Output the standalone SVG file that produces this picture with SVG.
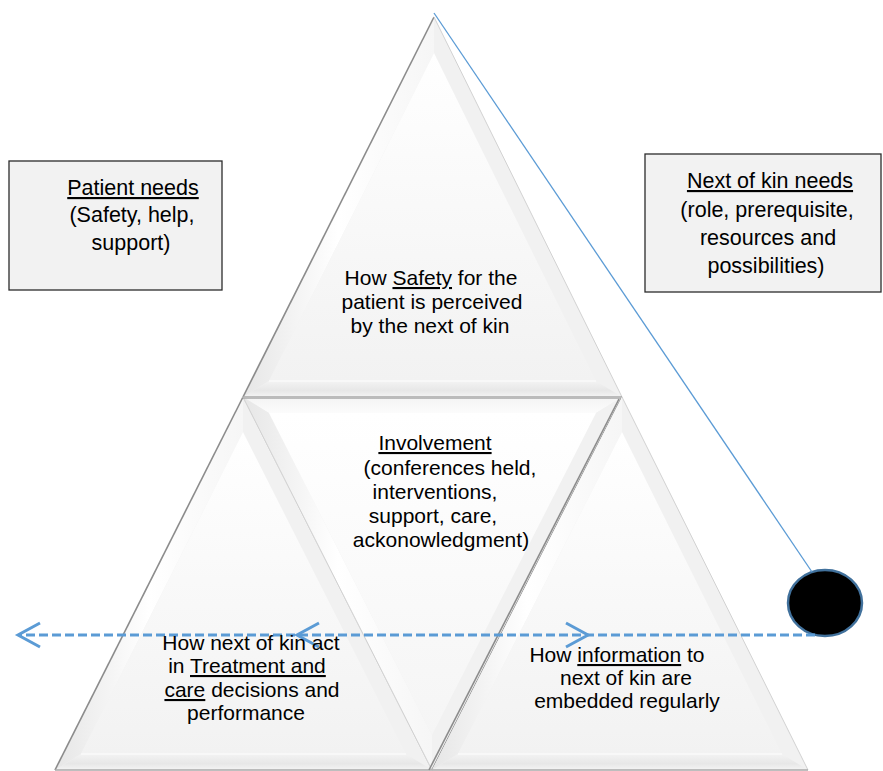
<svg xmlns="http://www.w3.org/2000/svg" width="883" height="771" viewBox="0 0 883 771">
  <style>
    .box { fill: #f2f2f2; stroke: #2b2b2b; stroke-width: 1.3; }
    .txt { font-family: "Liberation Sans", Arial, sans-serif; font-size: 21px; fill: #000; text-anchor: middle; }
    .btxt { font-family: "Liberation Sans", Arial, sans-serif; font-size: 21.5px; fill: #000; text-anchor: middle; }
    .u { text-decoration: underline; }
    .face { fill: url(#gFace); }
    .faceInv { fill: url(#gFaceInv); }
    .fL { fill: url(#gLeft); }
    .fR { fill: #f1f1f1; }
    .fB { fill: url(#gBottom); }
    .fT { fill: url(#gTop); }
    .edgeDark { fill: none; stroke: #8c8c8c; stroke-width: 1.6; }
    .edgeLight { fill: none; stroke: #d2d2d2; stroke-width: 1; }
    .edgeBase { fill: none; stroke: #a8a8a8; stroke-width: 1.4; }
    .innerLine { fill: none; stroke: #ffffff; stroke-width: 1.2; opacity: 0.9; }
    .dash { fill: none; stroke: #5b9bd5; stroke-width: 3; stroke-dasharray: 9 4; }
    .chev { fill: none; stroke: #5b9bd5; stroke-width: 3; stroke-linejoin: miter; }
  </style>
  <defs>
    <linearGradient id="gFace" x1="0" y1="0" x2="0" y2="1">
      <stop offset="0" stop-color="#ffffff"/>
      <stop offset="1" stop-color="#f2f2f2"/>
    </linearGradient>
    <linearGradient id="gFaceInv" x1="0" y1="0" x2="0" y2="1">
      <stop offset="0" stop-color="#ffffff"/>
      <stop offset="1" stop-color="#f5f5f5"/>
    </linearGradient>
    <linearGradient id="gLeft" x1="0" y1="0" x2="1" y2="0">
      <stop offset="0" stop-color="#e6e6e6"/>
      <stop offset="0.5" stop-color="#ffffff"/>
      <stop offset="1" stop-color="#f6f6f6"/>
    </linearGradient>
    <linearGradient id="gBottom" x1="0" y1="0" x2="0" y2="1">
      <stop offset="0" stop-color="#f3f3f3"/>
      <stop offset="0.6" stop-color="#e7e7e7"/>
      <stop offset="1" stop-color="#f4f4f4"/>
    </linearGradient>
    <linearGradient id="gTop" x1="0" y1="0" x2="0" y2="1">
      <stop offset="0" stop-color="#f4f4f4"/>
      <stop offset="1" stop-color="#fcfcfc"/>
    </linearGradient>
    <path id="chev" d="M22,-12 L0,0 L22,12"/>
  </defs>

  <rect width="883" height="771" fill="#ffffff"/>

  <!-- side boxes -->
  <g id="patient-needs">
    <rect class="box" x="9" y="161" width="213" height="129"/>
    <text class="btxt" x="133" y="195"><tspan class="u">Patient needs</tspan></text>
    <text class="btxt" x="132" y="222">(Safety, help,</text>
    <text class="btxt" x="131" y="250">support)</text>
  </g>

  <g id="next-of-kin-needs">
    <rect class="box" x="645" y="154" width="236" height="138"/>
    <text class="btxt" x="770" y="188"><tspan class="u">Next of kin needs</tspan></text>
    <text class="btxt" x="767" y="217">(role, prerequisite,</text>
    <text class="btxt" x="768" y="245">resources and</text>
    <text class="btxt" x="766" y="273">possibilities)</text>
  </g>

  <!-- top triangle -->
  <g id="safety">
    <polygon class="fR" points="434,17 243,397 622,397"/>
    <polygon class="fL" points="434,17 243,397 269,381 434,53"/>
    <polygon class="fR" points="434,17 622,397 596,381 434,53"/>
    <polygon class="fB" points="243,397 622,397 596,381 269,381"/>
    <polygon class="face" points="434,53 269,381 596,381"/>
    <polyline class="innerLine" points="269,381 596,381"/>
    <line class="edgeDark" x1="434" y1="17" x2="243" y2="397"/>
    <line class="edgeLight" x1="434" y1="17" x2="622" y2="397"/>
    <line class="edgeBase" x1="243" y1="397" x2="622" y2="397"/>
    <text class="txt" x="431" y="285">How <tspan class="u">Safety</tspan> for the</text>
    <text class="txt" x="432" y="309">patient is perceived</text>
    <text class="txt" x="430" y="333">by the next of kin</text>
  </g>

  <!-- bottom-left triangle -->
  <g id="treatment">
    <polygon class="fR" points="243,397 55,770 432,770"/>
    <polygon class="fL" points="243,397 55,770 81,754 243,432"/>
    <polygon class="fR" points="243,397 432,770 406,754 243,432"/>
    <polygon class="fB" points="55,770 432,770 406,754 81,754"/>
    <polygon class="face" points="243,432 81,754 406,754"/>
    <polyline class="innerLine" points="81,754 406,754"/>
    <line class="edgeDark" x1="243" y1="397" x2="55" y2="770"/>
    <line class="edgeLight" x1="243" y1="397" x2="432" y2="770"/>
    <line class="edgeBase" x1="55" y1="770" x2="432" y2="770"/>
  </g>

  <!-- middle inverted triangle -->
  <g id="involvement">
    <polygon class="fR" points="243,397 622,397 432,770"/>
    <polygon class="fT" points="243,397 622,397 596,413 269,413"/>
    <polygon class="fL" points="243,397 432,770 432,735 269,413"/>
    <polygon class="fR" points="622,397 432,770 432,735 596,413"/>
    <polygon class="faceInv" points="269,413 596,413 432,735"/>
    <line class="edgeLight" x1="243" y1="397" x2="432" y2="770"/>
    <line class="edgeDark" x1="622" y1="397" x2="432" y2="770"/>
    <line class="edgeBase" x1="243" y1="398" x2="622" y2="398"/>
    <text class="txt" x="435" y="450"><tspan class="u">Involvement</tspan></text>
    <text class="txt" x="450" y="475">(conferences held,</text>
    <text class="txt" x="435" y="499">interventions,</text>
    <text class="txt" x="433" y="523">support, care,</text>
    <text class="txt" x="441" y="547">ackonowledgment)</text>
  </g>

  <!-- bottom-right triangle -->
  <g id="information">
    <polygon class="fR" points="622,397 432,770 808,770"/>
    <polygon class="fL" points="622,397 432,770 458,754 622,432"/>
    <polygon class="fR" points="622,397 808,770 782,754 622,432"/>
    <polygon class="fB" points="432,770 808,770 782,754 458,754"/>
    <polygon class="face" points="622,432 458,754 782,754"/>
    <polyline class="innerLine" points="458,754 782,754"/>
    <line class="edgeDark" x1="619" y1="399" x2="429" y2="770"/>
    <line class="edgeLight" x1="622" y1="397" x2="808" y2="770"/>
    <line class="edgeBase" x1="432" y1="770" x2="808" y2="770"/>
    <text class="txt" x="617" y="662">How <tspan class="u">information</tspan> to</text>
    <text class="txt" x="626" y="685">next of kin are</text>
    <text class="txt" x="627" y="708">embedded regularly</text>
  </g>

  <!-- marker node -->
  <g id="marker-node">
    <ellipse cx="825" cy="603" rx="37" ry="33" fill="#000000" stroke="#41719c" stroke-width="2.5"/>
  </g>

  <!-- connectors -->
  <g id="connectors">
    <line x1="434" y1="13" x2="812" y2="572" stroke="#5b9bd5" stroke-width="1.3"/>
    <line class="dash" x1="815" y1="635" x2="20" y2="635"/>
    <use href="#chev" class="chev" transform="translate(18,635)"/>
    <use href="#chev" class="chev" transform="translate(297,635)"/>
    <use href="#chev" class="chev" transform="translate(588,635) scale(-1,1)"/>
  </g>

  <!-- label of the lower-left triangle, kept above the dashed connector -->
  <g id="treatment-label">
    <text class="txt" x="251" y="650">How next of kin act</text>
    <text class="txt" x="247" y="673">in <tspan class="u">Treatment and</tspan></text>
    <text class="txt" x="252" y="697"><tspan class="u">care</tspan> decisions and</text>
    <text class="txt" x="246" y="720">performance</text>
  </g>
</svg>
